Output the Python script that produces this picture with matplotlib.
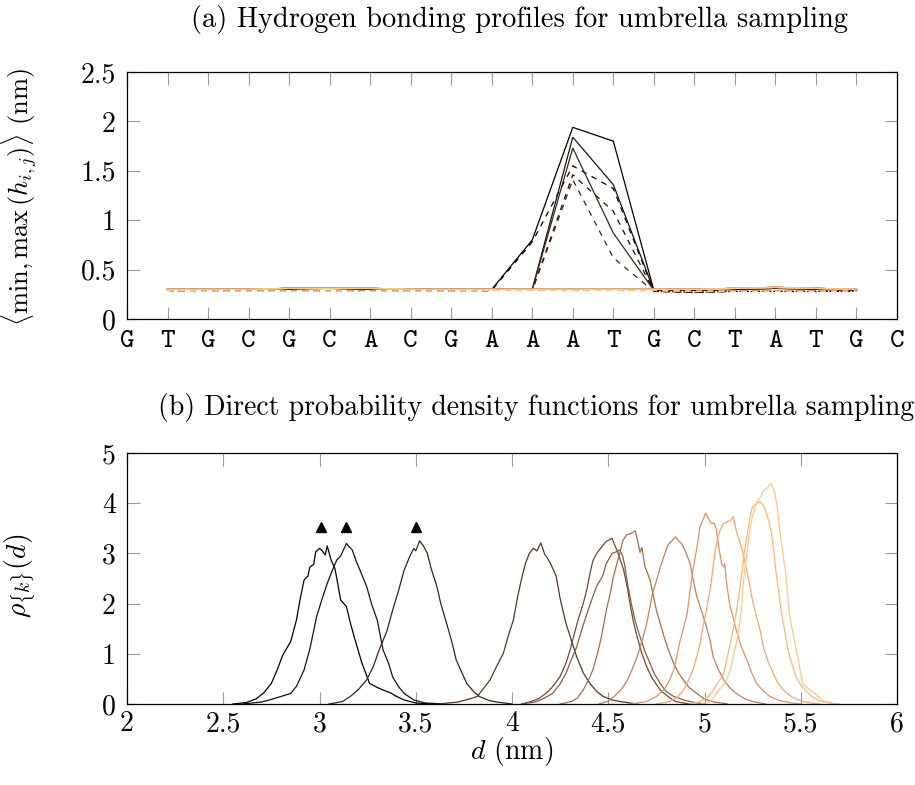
import numpy as np
import matplotlib
matplotlib.use("Agg")
import matplotlib.pyplot as plt
from matplotlib.font_manager import FontProperties

plt.rcParams['font.family'] = 'serif'
plt.rcParams['font.serif'] = ['cmr10']
plt.rcParams['mathtext.fontset'] = 'cm'
plt.rcParams['axes.formatter.use_mathtext'] = True

# ---------------- data: panel (a) ----------------
sequence = list("GTGCGCACGAAATGCTATGC")
positions = list(range(1, 19))  # profile sampled at inner base pairs 1..18

base_min = [0.30, 0.30, 0.30, 0.31, 0.31, 0.31, 0.30, 0.30, 0.30, 0.30, 0.30, 0.30,
            0.30, 0.30, 0.31, 0.32, 0.31, 0.30]
base_max = [0.29, 0.28, 0.28, 0.28, 0.28, 0.28, 0.28, 0.28, 0.29, 0.29, 0.29, 0.29,
            0.29, 0.28, 0.28, 0.28, 0.28, 0.28]

w0_min = [0.30, 0.30, 0.30, 0.31, 0.31, 0.31, 0.30, 0.30, 0.30, 0.80, 1.94, 1.80,
          0.29, 0.29, 0.30, 0.31, 0.31, 0.29]
w0_max = [0.29, 0.28, 0.28, 0.28, 0.28, 0.28, 0.28, 0.28, 0.29, 0.78, 1.55, 1.32,
          0.28, 0.27, 0.28, 0.28, 0.28, 0.28]
w1_min = [0.30, 0.30, 0.30, 0.31, 0.31, 0.30, 0.30, 0.30, 0.30, 0.30, 1.84, 1.36,
          0.29, 0.29, 0.30, 0.31, 0.30, 0.29]
w1_max = [0.29, 0.28, 0.28, 0.28, 0.28, 0.28, 0.28, 0.28, 0.29, 0.29, 1.46, 1.09,
          0.28, 0.27, 0.28, 0.28, 0.28, 0.28]
w2_min = [0.30, 0.30, 0.30, 0.30, 0.31, 0.30, 0.30, 0.30, 0.30, 0.30, 1.73, 0.87,
          0.29, 0.29, 0.30, 0.31, 0.30, 0.29]
w2_max = [0.29, 0.28, 0.28, 0.28, 0.28, 0.28, 0.28, 0.28, 0.29, 0.29, 1.41, 0.62,
          0.28, 0.27, 0.28, 0.28, 0.28, 0.28]

profiles_min = [w0_min, w1_min, w2_min] + [base_min] * 9
profiles_max = [w0_max, w1_max, w2_max] + [base_max] * 9

# ---------------- data: panel (b) ----------------
c1_d = [2.55, 2.62, 2.67, 2.71, 2.75, 2.78, 2.81, 2.85, 2.88, 2.90, 2.92, 2.94, 2.95, 2.97, 2.98,
        3.00, 3.01, 3.03, 3.04, 3.06, 3.08, 3.09, 3.11, 3.14, 3.16, 3.18, 3.22, 3.26, 3.30, 3.33,
        3.37, 3.40, 3.44, 3.50, 3.60]
c1_r = [0, 0.03, 0.10, 0.22, 0.41, 0.68, 0.98, 1.24, 1.67, 2.10, 2.47, 2.55, 2.73, 2.78, 3.03,
        3.10, 3.07, 2.97, 3.15, 2.87, 2.70, 2.50, 2.07, 1.94, 1.62, 1.34, 0.82, 0.41, 0.33, 0.28,
        0.22, 0.15, 0.08, 0.02, 0]
c2_d = [2.60, 2.70, 2.74, 2.80, 2.85, 2.88, 2.92, 2.95, 2.985, 3.01, 3.04, 3.06, 3.09, 3.11, 3.14,
        3.15, 3.17, 3.19, 3.21, 3.245, 3.27, 3.30, 3.33, 3.36, 3.38, 3.41, 3.44, 3.49, 3.55, 3.65]
c2_r = [0, 0.04, 0.08, 0.15, 0.21, 0.35, 0.68, 1.10, 1.74, 2.05, 2.40, 2.60, 2.87, 2.95, 3.20,
        3.15, 3.07, 2.85, 2.67, 2.34, 2.00, 1.67, 1.08, 0.80, 0.54, 0.35, 0.21, 0.08, 0.02, 0]
c3_d = [3.05, 3.12, 3.16, 3.20, 3.245, 3.28, 3.31, 3.35, 3.38, 3.41, 3.44, 3.47, 3.49, 3.50, 3.52,
        3.54, 3.56, 3.58, 3.61, 3.63, 3.66, 3.69, 3.71, 3.74, 3.765, 3.80, 3.83, 3.88, 3.92, 4.00]
c3_r = [0, 0.05, 0.15, 0.28, 0.48, 0.75, 1.08, 1.45, 1.87, 2.25, 2.67, 2.95, 3.10, 3.05, 3.25,
        3.15, 3.00, 2.70, 2.34, 2.00, 1.61, 1.20, 0.88, 0.62, 0.41, 0.25, 0.15, 0.07, 0.04, 0]
c4_d = [3.62, 3.72, 3.78, 3.82, 3.85, 3.886, 3.92, 3.955, 3.98, 4.007, 4.03, 4.05, 4.07, 4.09, 4.11,
        4.13, 4.15, 4.17, 4.18, 4.20, 4.23, 4.25, 4.28, 4.31, 4.336, 4.37, 4.405, 4.44, 4.474, 4.52,
        4.56, 4.65]
c4_r = [0, 0.04, 0.10, 0.15, 0.30, 0.48, 0.75, 1.01, 1.35, 1.67, 2.15, 2.50, 2.80, 3.00, 3.10,
        3.05, 3.21, 2.98, 2.93, 2.80, 2.54, 2.10, 1.61, 1.25, 0.94, 0.62, 0.41, 0.25, 0.15, 0.08,
        0.05, 0]
c5_d = [4.05, 4.10, 4.14, 4.18, 4.21, 4.25, 4.28, 4.30, 4.32, 4.345, 4.37, 4.39, 4.405, 4.42, 4.44,
        4.47, 4.49, 4.52, 4.535, 4.545, 4.56, 4.58, 4.60, 4.613, 4.63, 4.65, 4.675, 4.70, 4.73, 4.77,
        4.81, 4.85, 4.92]
c5_r = [0, 0.05, 0.11, 0.22, 0.34, 0.55, 0.81, 1.05, 1.34, 1.70, 2.00, 2.30, 2.60, 2.85, 3.00,
        3.15, 3.24, 3.30, 3.15, 3.07, 2.90, 2.67, 2.30, 2.00, 1.65, 1.34, 1.00, 0.74, 0.50, 0.28,
        0.15, 0.05, 0]
c6_d = [4.05, 4.12, 4.16, 4.21, 4.25, 4.28, 4.31, 4.336, 4.36, 4.39, 4.42, 4.44, 4.47, 4.49, 4.52,
        4.54, 4.56, 4.575, 4.587, 4.60, 4.62, 4.64, 4.665, 4.69, 4.717, 4.74, 4.77, 4.80, 4.84, 4.90,
        4.95, 5.00]
c6_r = [0, 0.04, 0.10, 0.21, 0.40, 0.61, 0.90, 1.14, 1.45, 1.81, 2.14, 2.35, 2.54, 2.80, 3.00,
        3.03, 3.07, 2.95, 2.73, 2.40, 2.00, 1.65, 1.34, 1.05, 0.81, 0.60, 0.41, 0.25, 0.15, 0.07,
        0.03, 0]
c7_d = [4.25, 4.31, 4.34, 4.37, 4.40, 4.42, 4.44, 4.457, 4.475, 4.49, 4.51, 4.527, 4.545, 4.56, 4.575,
        4.595, 4.62, 4.64, 4.65, 4.665, 4.675, 4.69, 4.717, 4.75, 4.79, 4.815, 4.84, 4.865, 4.89, 4.92,
        4.96, 5.00, 5.05, 5.12]
c7_r = [0, 0.05, 0.12, 0.28, 0.50, 0.68, 0.95, 1.21, 1.55, 1.87, 2.20, 2.54, 2.80, 3.00, 3.25,
        3.37, 3.40, 3.45, 3.30, 3.02, 3.12, 2.75, 2.47, 1.87, 1.34, 1.05, 0.81, 0.62, 0.48, 0.33,
        0.21, 0.10, 0.04, 0]
c8_d = [4.45, 4.50, 4.53, 4.57, 4.60, 4.625, 4.65, 4.675, 4.70, 4.715, 4.73, 4.75, 4.77, 4.79, 4.81,
        4.83, 4.85, 4.865, 4.88, 4.90, 4.925, 4.94, 4.96, 4.985, 5.01, 5.03, 5.045, 5.07, 5.10, 5.13,
        5.165, 5.21, 5.26, 5.32]
c8_r = [0, 0.06, 0.15, 0.30, 0.48, 0.70, 0.94, 1.25, 1.61, 1.90, 2.20, 2.45, 2.73, 2.95, 3.17,
        3.25, 3.33, 3.25, 3.20, 3.05, 2.80, 2.50, 2.14, 1.85, 1.54, 1.25, 0.94, 0.70, 0.48, 0.33,
        0.21, 0.10, 0.04, 0]
c9_d = [4.62, 4.70, 4.75, 4.79, 4.815, 4.84, 4.855, 4.87, 4.89, 4.91, 4.925, 4.94, 4.96, 4.977, 4.99,
        5.006, 5.02, 5.035, 5.05, 5.06, 5.075, 5.09, 5.10, 5.105, 5.115, 5.13, 5.15, 5.165, 5.19, 5.22,
        5.245, 5.27, 5.30, 5.34, 5.39, 5.45, 5.50]
c9_r = [0, 0.05, 0.15, 0.28, 0.45, 0.68, 0.93, 1.21, 1.50, 1.81, 2.25, 2.67, 3.10, 3.53, 3.65,
        3.80, 3.70, 3.60, 3.60, 3.50, 3.10, 2.78, 2.73, 2.80, 2.40, 2.00, 1.70, 1.47, 1.15, 0.88,
        0.62, 0.41, 0.28, 0.15, 0.07, 0.02, 0]
c10_d = [4.75, 4.82, 4.86, 4.89, 4.915, 4.94, 4.96, 4.977, 4.99, 5.01, 5.03, 5.045, 5.055, 5.07, 5.085,
         5.10, 5.12, 5.135, 5.15, 5.162, 5.175, 5.19, 5.20, 5.22, 5.236, 5.25, 5.27, 5.29, 5.306, 5.33,
         5.357, 5.38, 5.41, 5.45, 5.50, 5.55, 5.60]
c10_r = [0, 0.05, 0.14, 0.28, 0.45, 0.68, 0.95, 1.21, 1.50, 1.87, 2.30, 2.73, 3.05, 3.33, 3.50,
         3.60, 3.63, 3.66, 3.73, 3.50, 3.33, 3.15, 3.00, 2.65, 2.34, 2.05, 1.74, 1.45, 1.14, 0.85,
         0.61, 0.42, 0.28, 0.15, 0.06, 0.02, 0]
c11_d = [4.92, 4.98, 5.02, 5.046, 5.075, 5.10, 5.115, 5.13, 5.15, 5.167, 5.185, 5.20, 5.21, 5.22, 5.235,
         5.25, 5.27, 5.29, 5.30, 5.31, 5.33, 5.345, 5.36, 5.37, 5.385, 5.397, 5.415, 5.43, 5.45, 5.475,
         5.50, 5.53, 5.56, 5.60, 5.65, 5.70]
c11_r = [0, 0.05, 0.15, 0.28, 0.45, 0.61, 0.88, 1.14, 1.50, 1.87, 2.35, 2.80, 3.10, 3.33, 3.70,
         3.93, 4.00, 4.03, 3.98, 3.93, 3.70, 3.47, 3.05, 2.67, 2.25, 1.87, 1.50, 1.14, 0.85, 0.54,
         0.38, 0.25, 0.14, 0.06, 0.02, 0]
c12_d = [4.98, 5.03, 5.06, 5.09, 5.115, 5.135, 5.15, 5.17, 5.185, 5.195, 5.20, 5.21, 5.22, 5.228, 5.235,
         5.25, 5.27, 5.29, 5.31, 5.325, 5.345, 5.355, 5.366, 5.38, 5.39, 5.405, 5.42, 5.43, 5.44, 5.46,
         5.48, 5.495, 5.51, 5.53, 5.55, 5.57, 5.59, 5.61, 5.63, 5.68]
c12_r = [0, 0.05, 0.21, 0.35, 0.48, 0.70, 0.94, 1.30, 1.67, 2.00, 2.34, 2.70, 3.00, 3.25, 3.47,
         3.75, 4.00, 4.12, 4.26, 4.30, 4.40, 4.30, 4.20, 3.85, 3.47, 3.05, 2.67, 2.25, 1.81, 1.40,
         1.01, 0.70, 0.41, 0.33, 0.28, 0.22, 0.15, 0.08, 0.05, 0]

pdf_d = [c1_d, c2_d, c3_d, c4_d, c5_d, c6_d, c7_d, c8_d, c9_d, c10_d, c11_d, c12_d]
pdf_r = [c1_r, c2_r, c3_r, c4_r, c5_r, c6_r, c7_r, c8_r, c9_r, c10_r, c11_r, c12_r]

marker_d = [3.01, 3.14, 3.50]
marker_r = [3.53, 3.53, 3.53]

# ---------------- drawing ----------------
n_win = len(pdf_d)
colors = [plt.cm.copper(i / (n_win - 1)) for i in range(n_win)]

fig = plt.figure(figsize=(9.15, 7.85), dpi=100)
ax1 = fig.add_axes([127/915, 1 - 319/785, 770/915, 247/785])
ax2 = fig.add_axes([127/915, 1 - 704/785, 770/915, 251/785])

FS = 20
dash = (0, (4.5, 4.5))

for i in range(n_win):
    ax1.plot(positions, profiles_min[i], color=colors[i], lw=0.9, solid_joinstyle='miter')
    ax1.plot(positions, profiles_max[i], color=colors[i], lw=0.9, linestyle=dash)

ax1.set_xlim(0, len(sequence) - 1)
ax1.set_ylim(0, 2.5)
ax1.set_xticks(range(len(sequence)))
ax1.set_xticklabels(sequence, fontproperties=FontProperties(family='cmtt10', size=FS))
ax1.set_yticks([0, 0.5, 1, 1.5, 2, 2.5])
ax1.set_yticklabels(['0', '0.5', '1', '1.5', '2', '2.5'], fontsize=FS)
ax1.set_ylabel(r'$\langle$min,$\,$max$\,(h_{i,j})\rangle$ (nm)', fontsize=19)
ax1.yaxis.set_label_coords(-0.114, 0.494)
ax1.text(0.51, 1.182, '(a) Hydrogen bonding profiles for umbrella sampling',
         transform=ax1.transAxes, ha='center', va='baseline', fontsize=20.5)

for i in range(n_win):
    ax2.plot(pdf_d[i], pdf_r[i], color=colors[i], lw=0.9)
ax2.plot(marker_d, marker_r, linestyle='none', marker='^', color='black', markersize=7)

ax2.set_xlim(2, 6)
ax2.set_ylim(0, 5)
ax2.set_xticks([2, 2.5, 3, 3.5, 4, 4.5, 5, 5.5, 6])
ax2.set_xticklabels(['2', '2.5', '3', '3.5', '4', '4.5', '5', '5.5', '6'], fontsize=FS)
ax2.set_yticks([0, 1, 2, 3, 4, 5])
ax2.set_yticklabels(['0', '1', '2', '3', '4', '5'], fontsize=FS)
ax2.set_ylabel(r'$\rho_{\{k\}}(d)$', fontsize=FS)
ax2.yaxis.set_label_coords(-0.116, 0.51)
ax2.set_xlabel(r'$d$ (nm)', fontsize=FS)
ax2.text(0.531, 1.151, '(b) Direct probability density functions for umbrella sampling',
         transform=ax2.transAxes, ha='center', va='baseline', fontsize=FS)

for ax in (ax1, ax2):
    ax.tick_params(direction='in', length=9, width=0.8, color='#999999',
                   top=True, right=True, pad=8)
    for s in ax.spines.values():
        s.set_linewidth(0.9)
        s.set_color('black')
ax2.tick_params(axis='x', pad=5)
ax2.xaxis.set_label_coords(0.5, -0.125)

fig.savefig('out.png', dpi=100)
